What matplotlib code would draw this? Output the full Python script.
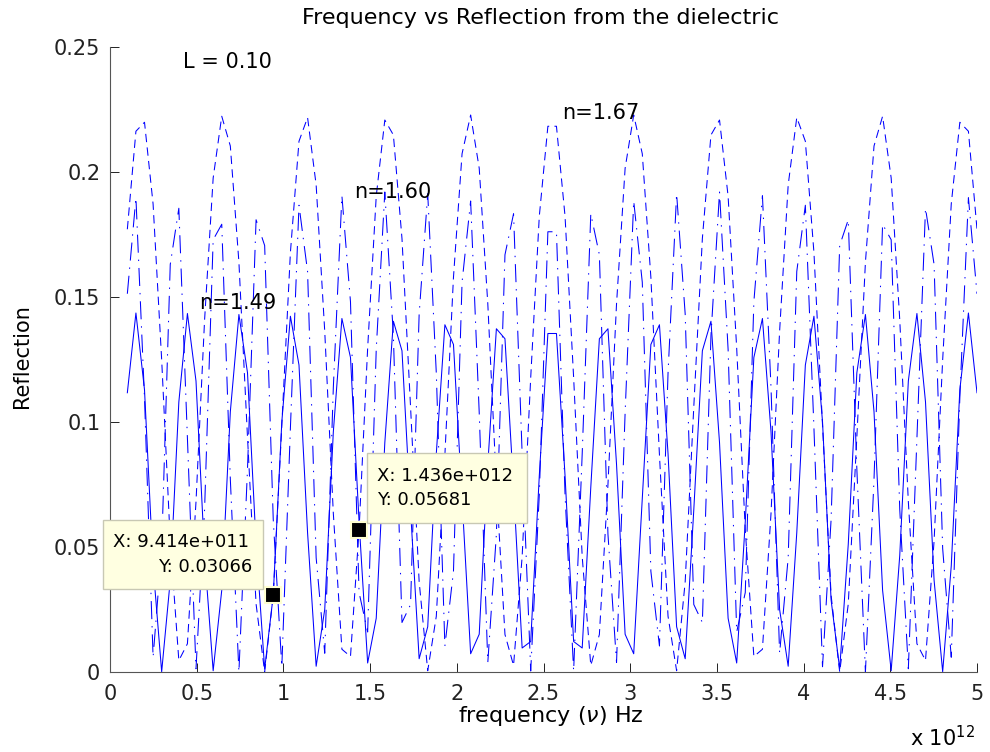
import numpy as np
import matplotlib
matplotlib.use("Agg")
import matplotlib.pyplot as plt
from matplotlib.patches import Rectangle

# ---------------- data ----------------
freq_start_hz = 1e11
freq_stop_hz = 5e12
n_points = 100
freq_hz = np.linspace(freq_start_hz, freq_stop_hz, n_points)

refl_n149 = [
    0.1117, 0.1436, 0.1129, 0.0424, 0.0001, 0.0367, 0.1080, 0.1434, 0.1164, 0.0467,
    0.0005, 0.0327, 0.1041, 0.1430, 0.1197, 0.0511, 0.0012, 0.0307, 0.1001, 0.1423,
    0.1228, 0.0557, 0.0023, 0.0250, 0.0960, 0.1414, 0.1258, 0.0602, 0.0036, 0.0215,
    0.0917, 0.1403, 0.1285, 0.0648, 0.0053, 0.0181, 0.0874, 0.1389, 0.1310, 0.0694,
    0.0073, 0.0151, 0.0830, 0.1373, 0.1333, 0.0739, 0.0096, 0.0122, 0.0785, 0.1354,
    0.1354, 0.0785, 0.0122, 0.0096, 0.0739, 0.1333, 0.1373, 0.0830, 0.0151, 0.0073,
    0.0694, 0.1310, 0.1389, 0.0874, 0.0181, 0.0053, 0.0648, 0.1285, 0.1403, 0.0917,
    0.0215, 0.0036, 0.0602, 0.1258, 0.1414, 0.0960, 0.0250, 0.0023, 0.0557, 0.1228,
    0.1423, 0.1001, 0.0288, 0.0012, 0.0511, 0.1197, 0.1430, 0.1041, 0.0327, 0.0005,
    0.0467, 0.1164, 0.1434, 0.1080, 0.0367, 0.0001, 0.0424, 0.1129, 0.1436, 0.1117,
]
refl_n160 = [
    0.1513, 0.1897, 0.1097, 0.0059, 0.0494, 0.1630, 0.1855, 0.0935, 0.0013, 0.0650,
    0.1729, 0.1791, 0.0771, 0.0000, 0.0812, 0.1809, 0.1706, 0.0610, 0.0021, 0.0976,
    0.1867, 0.1602, 0.0457, 0.0075, 0.1137, 0.1905, 0.1481, 0.0318, 0.0160, 0.1290,
    0.1920, 0.1344, 0.0198, 0.0270, 0.1431, 0.1913, 0.1195, 0.0104, 0.0403, 0.1559,
    0.1884, 0.1037, 0.0038, 0.0551, 0.1669, 0.1833, 0.0874, 0.0004, 0.0710, 0.1761,
    0.1761, 0.0710, 0.0004, 0.0874, 0.1833, 0.1669, 0.0551, 0.0038, 0.1037, 0.1884,
    0.1559, 0.0403, 0.0104, 0.1195, 0.1913, 0.1431, 0.0270, 0.0198, 0.1344, 0.1920,
    0.1290, 0.0160, 0.0318, 0.1481, 0.1905, 0.1137, 0.0075, 0.0457, 0.1602, 0.1867,
    0.0976, 0.0021, 0.0610, 0.1706, 0.1809, 0.0812, 0.0000, 0.0771, 0.1791, 0.1729,
    0.0650, 0.0013, 0.0935, 0.1855, 0.1630, 0.0494, 0.0059, 0.1097, 0.1897, 0.1513,
]
refl_n167 = [
    0.1771, 0.2163, 0.2199, 0.1872, 0.1249, 0.0525, 0.0046, 0.0113, 0.0681, 0.1408,
    0.1976, 0.2223, 0.2104, 0.1639, 0.0940, 0.0272, 0.0000, 0.0307, 0.0988, 0.1678,
    0.2123, 0.2218, 0.1948, 0.1363, 0.0635, 0.0091, 0.0062, 0.0568, 0.1295, 0.1903,
    0.2208, 0.2148, 0.1734, 0.1060, 0.0362, 0.0005, 0.0223, 0.0868, 0.1579, 0.2073,
    0.2228, 0.2015, 0.1473, 0.0750, 0.0150, 0.0026, 0.0461, 0.1178, 0.1823, 0.2183,
    0.2183, 0.1823, 0.1178, 0.0461, 0.0026, 0.0150, 0.0750, 0.1473, 0.2015, 0.2228,
    0.2073, 0.1579, 0.0868, 0.0223, 0.0005, 0.0362, 0.1060, 0.1734, 0.2148, 0.2208,
    0.1903, 0.1295, 0.0568, 0.0062, 0.0091, 0.0635, 0.1363, 0.1948, 0.2218, 0.2123,
    0.1678, 0.0988, 0.0307, 0.0000, 0.0272, 0.0940, 0.1639, 0.2104, 0.2223, 0.1976,
    0.1408, 0.0681, 0.0113, 0.0046, 0.0525, 0.1249, 0.1872, 0.2199, 0.2163, 0.1771,
]

curve_labels = ["n=1.49", "n=1.60", "n=1.67"]
label_pos = [(0.515, 0.1476), (1.407, 0.192), (2.607, 0.2236)]
thickness_label = "L = 0.10"

tip_x_hz = [9.414e11, 1.436e12]
tip_y = [0.03066, 0.05681]

x_ticks = [0, 0.5, 1, 1.5, 2, 2.5, 3, 3.5, 4, 4.5, 5]
x_tick_labels = ["0", "0.5", "1", "1.5", "2", "2.5", "3", "3.5", "4", "4.5", "5"]
y_ticks = [0, 0.05, 0.1, 0.15, 0.2, 0.25]
y_tick_labels = ["0", "0.05", "0.1", "0.15", "0.2", "0.25"]

# ---------------- figure ----------------
plt.rcParams['font.family'] = ['DejaVu Sans']
plt.rcParams['lines.scale_dashes'] = False
W, H = 990, 752
fig = plt.figure(figsize=(W / 100, H / 100), dpi=100)
ax = fig.add_axes([110 / W, (H - 672) / H, (977 - 110) / W, (672 - 47) / H])

scale = 1e12
xs = freq_hz / scale
blue = '#0000ff'
ax.plot(xs, refl_n149, color=blue, lw=0.75, linestyle='-')
ax.plot(xs, refl_n160, color=blue, lw=0.75, linestyle=(0, (13, 5, 1, 5)))
ax.plot(xs, refl_n167, color=blue, lw=0.75, linestyle=(0, (6, 3.8)))

ax.set_xlim(0, 5)
ax.set_ylim(0, 0.25)
ax.set_xticks(x_ticks)
ax.set_xticklabels(x_tick_labels)
ax.set_yticks(y_ticks)
ax.set_yticklabels(y_tick_labels)
ax.tick_params(direction='in', length=6.3, width=0.7, labelsize=15, colors='#222222')
ax.tick_params(axis='x', pad=9)
ax.tick_params(axis='y', pad=7)
for s in ['top', 'right']:
    ax.spines[s].set_visible(False)
for s in ['left', 'bottom']:
    ax.spines[s].set_color('#555555')
    ax.spines[s].set_linewidth(0.8)

# text annotations
for lab, (tx, ty) in zip(curve_labels, label_pos):
    ax.text(tx, ty, lab, fontsize=15, ha='left', va='center', color='black')
ax.text(0.421, 0.244, thickness_label, fontsize=15, ha='left', va='center', color='black')

# titles / labels
fig.text(541 / W, 1 - 18 / H, "Frequency vs Reflection from the dielectric",
         fontsize=16, ha='center', va='center')
fig.text(551 / W, 1 - 716 / H, "frequency ($\\nu$) Hz", fontsize=16, ha='center', va='center')
fig.text(975 / W, 1 - 738 / H, "x 10$^{12}$", fontsize=15, ha='right', va='center')
fig.text(22 / W, 1 - 356 / H, "Reflection", fontsize=15, ha='center', va='center', rotation=90)

# data tips
tip_face = '#ffffe1'
tip_edge = '#c8c8b4'
boxes = [(103, 520, 263, 589), (367, 453, 527, 523)]
for (x0, y0, x1, y1) in boxes:
    fig.patches.append(Rectangle((x0 / W, 1 - y1 / H), (x1 - x0) / W, (y1 - y0) / H,
                                 transform=fig.transFigure, facecolor=tip_face,
                                 edgecolor=tip_edge, lw=1.0, zorder=5))
fig.text(113 / W, 1 - 542 / H, f"X: {tip_x_hz[0]:.3e}".replace("e+11", "e+011"),
         fontsize=13, ha='left', va='center', zorder=6)
fig.text(252 / W, 1 - 567 / H, f"Y: {tip_y[0]:.5f}", fontsize=13, ha='right', va='center', zorder=6)
fig.text(377 / W, 1 - 476 / H, f"X: {tip_x_hz[1]:.3e}".replace("e+12", "e+012"),
         fontsize=13, ha='left', va='center', zorder=6)
fig.text(377 / W, 1 - 500 / H, f"Y: {tip_y[1]:.5f}", fontsize=13, ha='left', va='center', zorder=6)

ax.plot(np.array(tip_x_hz) / scale, tip_y, linestyle='none', marker='s', markersize=11,
        markerfacecolor='black', markeredgecolor='#ffffd0', markeredgewidth=1.5, zorder=7,
        clip_on=False)

fig.savefig("out.png", dpi=100)
